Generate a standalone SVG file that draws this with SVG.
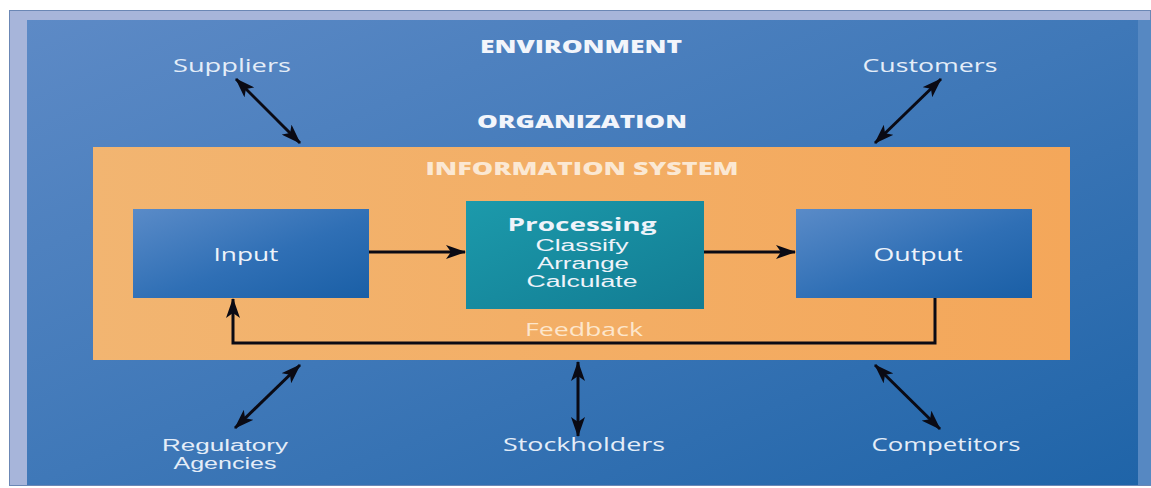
<svg xmlns="http://www.w3.org/2000/svg" width="1151" height="488" viewBox="0 0 1151 488">
<defs>
<linearGradient id="bg" x1="0" y1="0" x2="1" y2="1">
<stop offset="0" stop-color="#5d8ac6"/>
<stop offset="0.5" stop-color="#3f78b8"/>
<stop offset="1" stop-color="#1f64a8"/>
</linearGradient>
<linearGradient id="org" x1="0" y1="0" x2="1" y2="0">
<stop offset="0" stop-color="#f2b571"/>
<stop offset="1" stop-color="#f4a75a"/>
</linearGradient>
<linearGradient id="box" x1="0" y1="0" x2="1" y2="1">
<stop offset="0" stop-color="#5a8bc8"/>
<stop offset="0.55" stop-color="#2f6fb5"/>
<stop offset="1" stop-color="#1a5fa6"/>
</linearGradient>
<linearGradient id="proc" x1="0" y1="0" x2="1" y2="1">
<stop offset="0" stop-color="#1c9aab"/>
<stop offset="1" stop-color="#127c93"/>
</linearGradient>
<marker id="ah" viewBox="0 0 20 14" refX="19" refY="7" markerWidth="20" markerHeight="14" markerUnits="userSpaceOnUse" orient="auto-start-reverse">
<path d="M0,0 L20,7 L0,14 L5,7 Z" fill="#0a0a14"/>
</marker>
</defs>
<style>
.lbl{font-family:"Open Sans","Noto Sans","Liberation Sans",sans-serif;font-size:18px;fill:#e4edf8;text-anchor:middle}
.cap{font-family:"Open Sans","Noto Sans","Liberation Sans",sans-serif;font-size:17px;font-weight:800;fill:#f2f5fb;text-anchor:middle}
.btxt{font-family:"Open Sans","Noto Sans","Liberation Sans",sans-serif;font-size:18px;fill:#eef3fa;text-anchor:middle}
.sub{font-family:"Liberation Sans","Arial",sans-serif;font-size:16px;font-weight:400}
.conn{stroke:#0a0a14;stroke-width:3;fill:none}
</style>

<g id="environment">
<rect x="9" y="10" width="1142" height="476" fill="#a7b5da"/>
<rect x="9.5" y="10.5" width="1141" height="475" fill="none" stroke="#6b87b5" stroke-width="1"/>
<rect x="27" y="20" width="1111" height="465" fill="url(#bg)"/>
<rect x="1138" y="20" width="13" height="465" fill="#5688c2"/>
<text class="cap" x="581" y="53" textLength="202" lengthAdjust="spacingAndGlyphs">ENVIRONMENT</text>
</g>

<g id="organization">
<text class="cap" x="582" y="128" textLength="210" lengthAdjust="spacingAndGlyphs">ORGANIZATION</text>
</g>

<g id="information-system">
<rect x="93" y="147" width="977" height="213" fill="url(#org)"/>
<text class="cap" x="582" y="175" textLength="313" lengthAdjust="spacingAndGlyphs" style="fill:#fbe8d3">INFORMATION SYSTEM</text>
</g>

<g id="input">
<rect x="133" y="209" width="236" height="89" fill="url(#box)"/>
<text class="btxt" x="246" y="261" textLength="65" lengthAdjust="spacingAndGlyphs">Input</text>
</g>

<g id="processing">
<rect x="466" y="201" width="238" height="108" fill="url(#proc)"/>
<text class="btxt" x="582" y="231" font-weight="700" textLength="149" lengthAdjust="spacingAndGlyphs">Processing</text>
<text class="btxt sub" x="582" y="251" textLength="93" lengthAdjust="spacingAndGlyphs">Classify</text>
<text class="btxt sub" x="583" y="269" textLength="92" lengthAdjust="spacingAndGlyphs">Arrange</text>
<text class="btxt sub" x="582" y="287" textLength="111" lengthAdjust="spacingAndGlyphs">Calculate</text>
</g>

<g id="output">
<rect x="796" y="209" width="236" height="89" fill="url(#box)"/>
<text class="btxt" x="918" y="261" textLength="89" lengthAdjust="spacingAndGlyphs">Output</text>
</g>

<g id="suppliers"><text class="lbl" x="232" y="72" textLength="118" lengthAdjust="spacingAndGlyphs">Suppliers</text></g>
<g id="customers"><text class="lbl" x="930" y="72" textLength="135" lengthAdjust="spacingAndGlyphs">Customers</text></g>
<g id="regulatory-agencies">
<text class="lbl sub" x="225" y="451" textLength="126" lengthAdjust="spacingAndGlyphs">Regulatory</text>
<text class="lbl sub" x="225" y="469" textLength="103" lengthAdjust="spacingAndGlyphs">Agencies</text>
</g>
<g id="stockholders"><text class="lbl" x="584" y="451" textLength="162" lengthAdjust="spacingAndGlyphs">Stockholders</text></g>
<g id="competitors"><text class="lbl" x="946" y="451" textLength="149" lengthAdjust="spacingAndGlyphs">Competitors</text></g>

<g id="feedback-label">
<text class="btxt" x="584" y="336" textLength="118" lengthAdjust="spacingAndGlyphs" style="fill:#fde6cc">Feedback</text>
</g>

<g id="connectors">
<line class="conn" x1="369" y1="252" x2="465" y2="252" marker-end="url(#ah)"/>
<line class="conn" x1="704" y1="252" x2="795" y2="252" marker-end="url(#ah)"/>
<polyline class="conn" points="935,298 935,343 233,343 233,299" marker-end="url(#ah)"/>
<line class="conn" x1="236" y1="79" x2="300" y2="143" marker-start="url(#ah)" marker-end="url(#ah)"/>
<line class="conn" x1="941" y1="79" x2="875" y2="143" marker-start="url(#ah)" marker-end="url(#ah)"/>
<line class="conn" x1="300" y1="365" x2="235" y2="428" marker-start="url(#ah)" marker-end="url(#ah)"/>
<line class="conn" x1="578" y1="362" x2="578" y2="436" marker-start="url(#ah)" marker-end="url(#ah)"/>
<line class="conn" x1="875" y1="365" x2="940" y2="429" marker-start="url(#ah)" marker-end="url(#ah)"/>
</g>
</svg>
